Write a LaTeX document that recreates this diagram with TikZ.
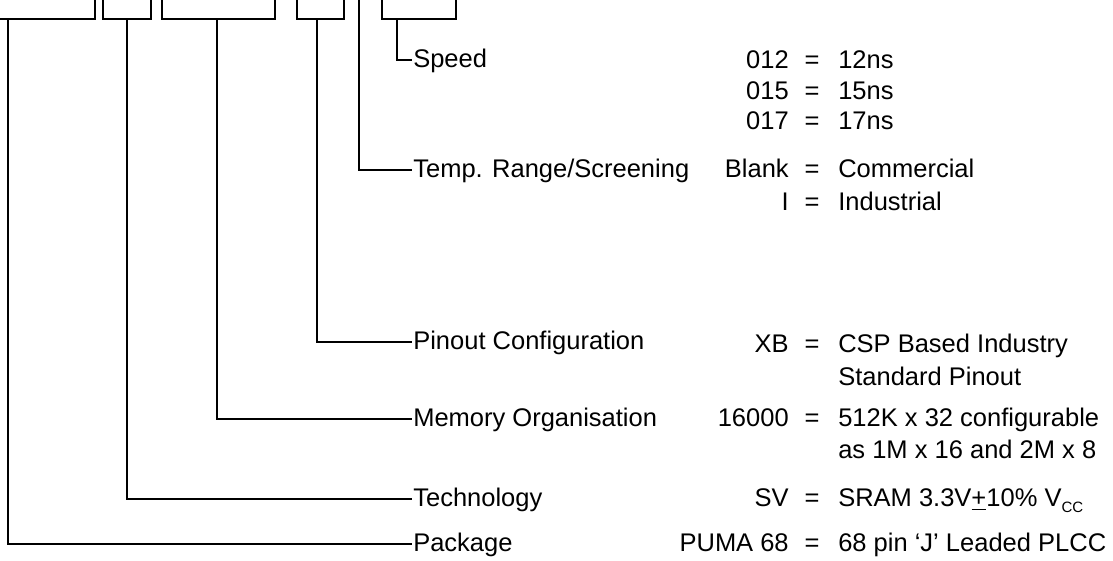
\documentclass[tikz,border=0pt]{standalone}
\usepackage{fontspec}
\setmainfont{Liberation Sans}
\begin{document}
\begin{tikzpicture}[x=0.5pt, y=-0.5pt, line width=1.3pt,
  txt/.style={inner sep=0pt, text height=0.716em, text depth=0pt,
    font=\fontsize{12.75}{15}\selectfont},
  lbl/.style={txt, anchor=west},
  code/.style={txt, anchor=east},
  eqs/.style={txt, anchor=center},
  val/.style={txt, anchor=west}]
  \useasboundingbox (0,0) rectangle (1113,561);
  % brackets under the part number
  \draw (-4,-4) |- (95,19) -- (95,-4);
  \draw (103,-4) |- (151,19) -- (151,-4);
  \draw (162,-4) |- (275,19) -- (275,-4);
  \draw (297,-4) |- (344,19) -- (344,-4);
  \draw (382,-4) |- (456,19) -- (456,-4);
  \coordinate (pkgb) at (8,19);
  \coordinate (techb) at (127,19);
  \coordinate (memb) at (217,19);
  \coordinate (pinb) at (317,19);
  \coordinate (tempb) at (359,-4);
  \coordinate (spdb) at (397,19);
  % labels
  \node[lbl] (spd) at (412,60) {Speed};
  \node[lbl] (temp) at (412,170) {Temp. Range/Screening};
  \node[lbl] (pin) at (412,342) {Pinout Configuration};
  \node[lbl] (mem) at (412,419) {Memory Organisation};
  \node[lbl] (tech) at (412,499) {Technology};
  \node[lbl] (pkg) at (412,544) {Package};
  \draw (spdb) |- (spd.west);
  \draw (tempb) |- (temp.west);
  \draw (pinb) |- (pin.west);
  \draw (memb) |- (mem.west);
  \draw (techb) |- (tech.west);
  \draw (pkgb) |- (pkg.west);
  % options
  \node[code] (c12) at (790,61) {012};
  \node[eqs] (e12) at (812,61) {=};
  \node[val] (v12) at (837,61) {12ns};
  \node[code] (c15) at (790,92) {015};
  \node[eqs] (e15) at (812,92) {=};
  \node[val] (v15) at (837,92) {15ns};
  \node[code] (c17) at (790,122) {017};
  \node[eqs] (e17) at (812,122) {=};
  \node[val] (v17) at (837,122) {17ns};
  \node[code] (cbl) at (790,170) {Blank};
  \node[eqs] (ebl) at (812,170) {=};
  \node[val] (vbl) at (837,170) {Commercial};
  \node[code] (cin) at (790,203) {I};
  \node[eqs] (ein) at (812,203) {=};
  \node[val] (vin) at (837,203) {Industrial};
  \node[code] (cxb) at (790,345) {XB};
  \node[eqs] (exb) at (812,345) {=};
  \node[val] (vxb) at (837,345) {CSP Based Industry};
  \node[val] (vxb2) at (837,378) {Standard Pinout};
  \node[code] (corg) at (790,419) {16000};
  \node[eqs] (eorg) at (812,419) {=};
  \node[val] (vorg) at (837,419) {512K x 32 configurable};
  \node[val] (vorg2) at (837,451) {as 1M x 16 and 2M x 8};
  \node[code] (csv) at (790,499) {SV};
  \node[eqs] (esv) at (812,499) {=};
  \node[val] (vsv) at (837,499) {SRAM 3.3V\underline{+}10\% V\raisebox{-0.45ex}{\fontsize{7.5}{8}\selectfont CC}};
  \node[code] (cpk) at (790,544) {PUMA 68};
  \node[eqs] (epk) at (812,544) {=};
  \node[val] (vpk) at (837,544) {68 pin ‘J’ Leaded PLCC};
\end{tikzpicture}
\end{document}
